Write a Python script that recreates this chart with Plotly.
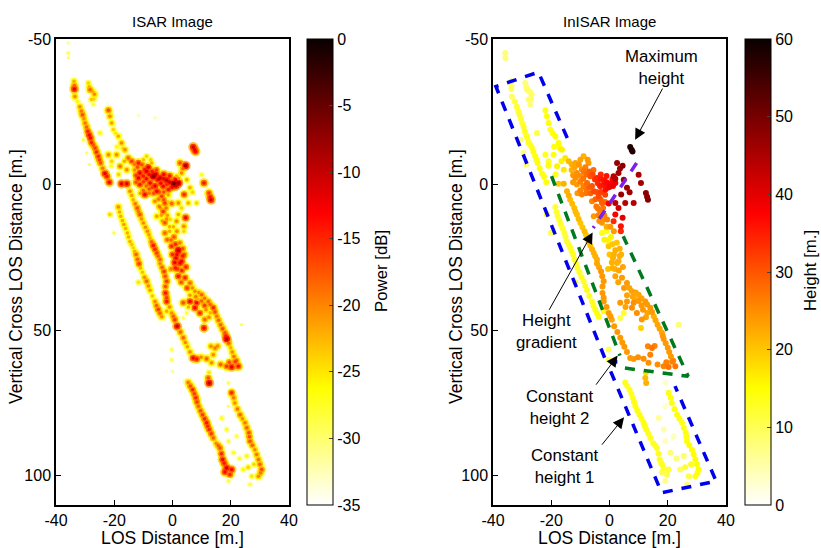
import plotly.graph_objects as go

# rows: LOS distance, vertical cross LOS distance, power [dB], height [m.]
strand_top = [(-35.8,-48.6,-31,8),(-35.8,-45.2,-29,8),(-35.7,-43.5,-30,8)]
strand_a = [(-33.8,-35.5,-22,9),(-33.7,-34,-18,9),(-33.7,-32.8,-12,10),(-33.5,-30.3,-20,9),(-32.6,-28.5,-26,11),
 (-31.8,-26.7,-20,12),(-31.3,-25.3,-19,12),(-30.9,-24,-17,12),(-30.4,-22.6,-20,12),(-30,-21.2,-19,12),
 (-29.5,-19.8,-18,13),(-29.1,-18.3,-15,13),(-28.6,-17,-13,13),(-28.2,-16,-13,13),(-27.8,-14.5,-15,13),
 (-27.2,-13.6,-17,13),(-26.6,-12.6,-16,13),(-26.1,-11.2,-15,14),(-25.5,-9.7,-15,14),(-25.1,-8.5,-16,14),
 (-24.7,-7.4,-17,14),(-24,-5.6,-19,14),(-23.2,-3.8,-12,14),(-22.5,-2.8,-14,14),(-21.7,-0.8,-13,14)]
strand_b = [(-28.9,-34.9,-24,8),(-28.6,-33.6,-22,8),(-28.3,-32.6,-18,9),(-27.4,-32,-22,9),(-26.8,-31,-20,9),
 (-27.8,-29.2,-23,8),(-27,-29.4,-24,9),(-27.2,-27.5,-28,8)]
strand_c = [(-22,-25.5,-17,13),(-21.5,-23.5,-20,14),(-20.9,-21.2,-21,14),(-20.3,-18.9,-24,13),(-19.5,-17.6,-25,14),
 (-18.6,-16.6,-22,15),(-17.5,-14.3,-20,15),(-16.3,-12,-20,16),(-15.2,-9.1,-18,17),(-22,-10.3,-20,13),
 (-19.2,-10.3,-20,14),(-20.9,-8,-24,13),(-18,-6.3,-19,16),(-15.7,-5.1,-20,17),(-24.9,-17.7,-26,11),
 (-30.6,-15.4,-29,8),(-29.5,-10.9,-30,8),(-28.6,-6.9,-30,8),(-11.7,-23.7,-32,4),(-6,-22.9,-32,4),
 (-17,-12.5,-24,15),(-19,-13,-26,14),(-21,-6.5,-27,14),(-18.5,-3.5,-24,14),(-16.5,-8,-22,16)]
mass_center = [(-14,-8,-16,21),(-11.7,-7.4,-14,23),(-8.3,-6,-12,26),(-6.6,-2.9,-7,30),(-11.2,-4,-12,25),
 (-11.7,-2.3,-12,25),(-8.9,-4.6,-11,27),(-4.3,-2.3,-10,34),(-2,-1.5,-10,36),(0.5,-0.3,-5,38),(2,-0.6,-8,39),
 (-3.2,0.6,-13,35),(-5.4,2.3,-13,31),(-9.5,3.4,-13,26),(-11.2,0,-14,24),(-7.7,-0.6,-13,28),(-1.4,1.7,-14,36),
 (-3.7,4,-16,31),(-2.6,6.3,-16,29),(-6,5.7,-20,26),(-3.2,9.2,-16,26),(-5.4,10.9,-21,24),(-2.6,13.1,-17,24),
 (-8.9,-9.7,-24,22),(-7.2,-7.4,-22,24),(-13,-5,-20,22),(-10,-1,-16,26),(-6,0.5,-12,30),(-1,-3,-14,36),
 (-5.5,-5,-16,28),(-3,-3.5,-13,34),(-0.5,1,-15,37),(-8,1.5,-17,27),(-4.5,7.5,-19,27),(-1.8,10.5,-21,26)]
mass_fill = [(-13,-7,-19,22),(-12,-6,-17,23),(-10.5,-6.8,-17,24),(-9.5,-5.2,-14,25),(-10,-3,-14,25),(-12.5,-3.2,-16,24),
 (-12.5,-0.8,-17,24),(-9,-2,-13,27),(-8,-3.5,-13,28),(-7,-4.5,-14,29),(-5.8,-3.5,-10,31),(-5,-1.8,-12,33),(-4,-0.5,-13,34),
 (-3,-2,-12,35),(-2,0,-15,36),(-1,-0.8,-11,37),(0,0.8,-13,38),(1.2,0.5,-11,39),(1,-1.8,-13,38),(-7,1,-16,29),(-9,0.5,-18,26),
 (-10,2,-18,26),(-8,3,-19,27),(-6.5,3,-17,29),(-4.5,2.5,-17,31),(-3,2.5,-17,32),(-1.5,3.5,-21,32),(-4.8,5,-19,29),
 (-3,5.2,-17,29),(-1.5,6,-23,28),(-4,8.2,-21,27),(-2.2,8,-19,27),(-3.8,10.5,-21,26),(-2,11.8,-20,25),(-3.5,12.5,-21,25),
 (-1,14.5,-22,22),(-11,3,-21,24),(-10,-8.5,-23,23),(-7.5,-8.5,-24,24)]
cluster_right = [(2.6,-7.4,-17,47),(4.5,-6.5,-9,48),(3.1,-4,-20,46),(1.4,-2.9,-22,44),(4.9,-1.7,-22,46),
 (7.1,-12.9,-11,58),(7.9,-11.4,-13,58),(10,-3.4,-27,45),(10.8,-0.6,-14,46),(12.5,2.9,-16,48),(13.2,5.2,-11,49),
 (6,1.1,-22,46),(6.9,2.6,-24,46),(4,3.4,-15,47),(8.3,6.3,-24,44),(5.4,6.3,-22,44),(2,6.3,-20,44),(3.1,8,-24,42),
 (-0.3,6.5,-18,38),(4.5,11.4,-13,40),(2,10.3,-22,38),(3.9,14.3,-20,36),(1.4,12.6,-20,34),(3.9,16,-24,34),
 (3.6,-5.5,-18,47),(2,-2,-20,44),(12.9,4.2,-14,48),(7.6,-12,-12,58)]
strand_d = [(-17.5,-0.3,-12,20),(-15.7,-0.3,-12,22),(-14.6,2.3,-20,22),(-13.5,5.2,-22,21),(-12.1,8,-17,21),
 (-11.2,10.3,-17,21),(-10,13.2,-20,20),(-8.6,16,-20,21),(-7.7,18.3,-22,20),(-6.6,20.9,-14,21),(-5.4,23.5,-16,22),
 (-4.3,25.7,-18,22),(-4.3,27.1,-20,23),(-2.9,29.8,-16,24),(-2.5,31.5,-17,24),(-2,33.2,-16,24),(-2.4,35,-17,24),
 (-2.4,37.2,-14,24),(-2,38.8,-16,24),(-2,40.1,-14,24),(-1,42,-20,24),(-0.3,44.1,-20,24),(0.8,46.4,-16,23),
 (1.6,48.6,-11,24),(2.7,50.6,-18,24),(3.7,52.6,-18,24),(5.1,55.7,-21,24),(6,57.5,-20,24),(7.1,59.5,-13,24),(8.3,59.9,-14,24),
 (-14,3.7,-21,22),(-12.8,6.6,-19,21),(-11.7,9.2,-19,21),(-10.6,11.8,-20,21),(-9.3,14.6,-20,20),(-8.1,17.2,-21,20),
 (-7.2,19.6,-18,21),(-6,22.2,-15,22),(-4.9,24.6,-18,22),(-3.6,28.4,-18,23),(0.3,45.2,-18,24),(4.4,54.2,-20,24)]
strand_e = [(-21.5,10.3,-24,12),(-20.1,16.6,-29,10),(-18.6,7.7,-20,12),(-18.2,9.4,-22,12),(-17.8,10.9,-22,12),(-16.7,13.7,-21,12),
 (-16.1,15.1,-22,12),(-15.5,16.6,-22,12),(-15.1,18,-22,12),(-14.6,19.5,-22,12),(-13.5,21.7,-24,13),(-12.5,24,-18,13),
 (-11.5,27.2,-16,13),(-11,28.6,-22,13),(-10.3,30.1,-23,13),(-9.6,31.8,-20,13),(-8.9,33.2,-18,13),(-7.7,36.3,-21,13),
 (-6.9,38.2,-23,13),(-6,40.1,-20,13),(-4.9,42.9,-16,14),(-3.7,45.4,-20,14),(-2,43.5,-22,14),(-11.7,33.5,-25,12),
 (-17.2,12.3,-22,12),(-14,20.6,-23,12),(-13,22.9,-22,13),(-12,25.6,-18,13),(-8.3,34.8,-20,13),(-5.5,41.5,-18,14),(-4.3,44.2,-18,14)]
strand_f = [(-2.6,16.6,-18,14),(-1.8,18.9,-18,16),(-0.3,21.2,-15,20),(2,22.5,-9,22),(1.2,25.2,-12,22),(3.1,26.3,-13,22),
 (4.6,28.3,-15,23),(0.8,26.7,-12,22),(2.6,26.9,-12,22),(2,31.5,-14,23),(4.3,32,-15,24),(6,33.8,-18,24),(7.7,36.6,-20,23),
 (10,37.8,-18,23),(12.3,40.1,-18,24),(14,42.3,-15,24),(15.2,45.2,-19,22),(16.5,48.1,-18,23),(18,50.9,-17,23),
 (18.6,53,-9,24),(20,56,-22,24),(21.1,59,-19,24),(22.6,62.4,-14,27),(20.3,62.6,-12,27),(18.6,62.4,-16,26),(16.5,61.8,-18,25),
 (21.5,60.8,-16,26),(19.5,61,-17,26),(1,28.6,-14,22),(3.2,29.5,-15,23),(8.8,39.5,-22,22),(13,44,-22,23),
 (12.9,41.2,-18,24),(14.6,43.7,-17,24),(15.8,46.6,-18,23),(17.2,49.5,-17,23),(18.3,52,-14,24),(19.3,54.5,-18,24),
 (20.5,57.5,-20,24),(21.9,60.5,-17,25),(9,37,-20,23),(11,39,-19,23)]
strand_f_fill = [(0,24,-15,20),(1.5,24,-13,22),(3.5,24.5,-14,22),(-0.5,29,-19,20),(1.8,29,-16,22),(3,33.5,-17,23),(5,35.5,-16,24),
 (6.8,35.5,-20,23),(6,38,-21,23),(8,38.5,-19,23),(10,40,-18,24),(11,41.5,-16,24),(11.5,43,-20,24),(12.5,45.5,-20,23),
 (-1,16,-22,14),(0.5,18,-17,16),(-0.5,19,-18,16),(1,20.5,-15,20),(2.5,20,-19,20),(3.5,22,-17,22),(4,24,-17,22),
 (0.3,14.5,-22,24),(-0.8,12,-24,26),(1.5,16,-20,24)]
cross_links = [(3.7,40.6,-17,24),(6,40.1,-13,24),(8.3,40.6,-13,25),(7.7,42.3,-13,25),(9.4,44.1,-15,25),(11.1,46.3,-18,24),
 (10.8,49.2,-13,19),(4.9,44.1,-28,12),(3.7,45.8,-29,11),(23.7,48.1,-30,8),(14.6,56.1,-19,27),(14,58.4,-20,26),
 (11.7,59.8,-18,25),(13.4,61.2,-20,25),(12.6,68.1,-10,22),(12.3,66.4,-17,21),(12.5,64.5,-25,18),(-0.3,56.6,-29,10),
 (-0.3,60.1,-29,10),(0,64.1,-31,9),(15.5,55.4,-20,26),(13.2,55.5,-20,26),(9.8,59.3,-20,25),(5.5,42,-22,23)]
strand_g = [(5.4,67.9,-19,13),(6.9,70.4,-15,13),(8,73.2,-15,13),(8.9,76.1,-18,14),(10.3,79,-16,14),(11.7,81.8,-14,14),
 (12.6,84.1,-15,14),(14,87,-18,13),(15,88.8,-20,13),(16.3,90.4,-17,13),(17.2,94.4,-13,13),(18,96,-17,13),(18.6,97.3,-11,12),
 (20.3,97.8,-13,12),(18,98.7,-13,11),(19.7,99.5,-15,11),(19.2,101.8,-28,7),
 (6.1,69.1,-17,13),(7.5,71.8,-16,13),(8.4,74.6,-16,14),(9.6,77.6,-17,14),(11,80.4,-15,14),(12.1,83,-15,14),(13.3,85.5,-16,13),
 (15.7,89.6,-18,13),(16.8,92.4,-15,13),(17.7,95.6,-14,13)]
strand_h = [(20.3,71.5,-15,14),(21,73.2,-19,14),(21.4,75,-20,14),(23.2,79,-18,14),(24,80.4,-20,14),(24.9,81.8,-19,14),(26.2,85.2,-17,14),
 (26.6,88.1,-17,14),(28.3,91,-20,15),(29.5,94.4,-19,15),(30.6,97.8,-17,15),(29.5,100.1,-20,14),(27.2,100.1,-25,11),
 (24.3,97.8,-26,10),(26.6,103,-28,8),(25.5,93.2,-26,9),(16.9,80.1,-27,6),(18.6,84.1,-27,5),(19.2,88.1,-28,4),
 (22,86.4,-28,4),(20.9,92.1,-27,8),(19.2,76.1,-30,3),(19.2,68.1,-29,3),(28,96,-24,13),(26,97,-24,12),(23,94,-27,8),
 (22.3,77,-19,14),(25.5,83.5,-18,14),(26.4,86.6,-17,14),(27.4,89.5,-18,15),(28.9,92.7,-19,15),(30,96,-18,15),(30.2,99,-19,15)]

x_ticks = [-40, -20, 0, 20, 40]
y_ticks = [-50, 0, 50, 100]
power_ticks = [-35, -30, -25, -20, -15, -10, -5, 0]
height_ticks = [0, 10, 20, 30, 40, 50, 60]

blue_box_upper_x = [-14.5, -24.4, -39, -1.2, 2.7]
blue_box_upper_y = [-16, -38.6, -33.7, 60.6, 60.9]
blue_box_lower_x = [0.4, 17.9, 36.6, 22.5]
blue_box_lower_y = [64.1, 105.8, 101.8, 69.2]
green_left_x = [-19.9, 3.6]
green_left_y = [-2.9, 58.7]
green_right_x = [5.3, 27, 4.7]
green_right_y = [63, 65.8, 17.7]
purple_x = [9.3, -5.6]
purple_y = [-7.4, 14.9]

rows = (strand_top + strand_a + strand_b + strand_c + mass_center + mass_fill + cluster_right + strand_d
        + strand_e + strand_f + strand_f_fill + cross_links + strand_g + strand_h)

hot_r = [[0, "#ffffff"], [0.25, "#ffff00"], [0.625, "#ff0000"], [1, "#0a0000"]]
FONT = "Liberation Sans"
L, R = 56, 289
L2, R2 = 493, 726
T, B = 39, 505
W, H = 821, 548

fig = go.Figure()

by_power = sorted(rows, key=lambda r: r[2])
px = [r[0] for r in by_power]
py = [r[1] for r in by_power]
pv = [r[2] for r in by_power]
fig.add_trace(go.Scatter(x=px, y=py, mode="markers", xaxis="x", yaxis="y", showlegend=False,
    marker=dict(size=10, color=[v - 11 for v in pv], cmin=-35, cmax=0, colorscale=hot_r, opacity=0.75, line_width=0)))
fig.add_trace(go.Scatter(x=px, y=py, mode="markers", xaxis="x", yaxis="y", showlegend=False,
    marker=dict(size=6.5, color=[v - 5 for v in pv], cmin=-35, cmax=0, colorscale=hot_r, line_width=0)))
fig.add_trace(go.Scatter(x=px, y=py, mode="markers", xaxis="x", yaxis="y", showlegend=False,
    marker=dict(size=3.5, color=pv, cmin=-35, cmax=0, colorscale=hot_r, line_width=0,
        colorbar=dict(x=307/W, xanchor="left", xpad=0, y=1-B/H, yanchor="bottom", ypad=0, len=(B-T)/H, lenmode="fraction",
            thickness=26, thicknessmode="pixels", outlinewidth=1, outlinecolor="black", ticks="inside", ticklen=4,
            tickvals=power_ticks, ticktext=[str(v) for v in power_ticks], tickfont=dict(family=FONT, size=16, color="black")))))

by_height = sorted([r for r in rows if r[2] > -31], key=lambda r: r[3])
fig.add_trace(go.Scatter(x=[r[0] for r in by_height], y=[r[1] for r in by_height], mode="markers", xaxis="x2", yaxis="y2", showlegend=False,
    marker=dict(size=6, color=[r[3] for r in by_height], cmin=0, cmax=60, colorscale=hot_r, line_width=0,
        colorbar=dict(x=745/W, xanchor="left", xpad=0, y=1-B/H, yanchor="bottom", ypad=0, len=(B-T)/H, lenmode="fraction",
            thickness=26, thicknessmode="pixels", outlinewidth=1, outlinecolor="black", ticks="inside", ticklen=4,
            tickvals=height_ticks, ticktext=[str(v) for v in height_ticks], tickfont=dict(family=FONT, size=16, color="black")))))

for xs, ys, col in [(blue_box_upper_x, blue_box_upper_y, "#0000ee"), (blue_box_lower_x, blue_box_lower_y, "#0000ee"),
                    (green_left_x, green_left_y, "#007a1f"), (green_right_x, green_right_y, "#007a1f"),
                    (purple_x, purple_y, "#7a22e8")]:
    fig.add_trace(go.Scatter(x=xs, y=ys, mode="lines", xaxis="x2", yaxis="y2", showlegend=False,
        line=dict(color=col, width=3.5, dash="10px,9px")))

axis_common = dict(range=[-40, 40], tickvals=x_ticks, ticktext=[str(v) for v in x_ticks], ticks="inside", ticklen=5,
    showgrid=False, zeroline=False, showline=True, mirror=True, linecolor="black", linewidth=1.5, tickcolor="black",
    tickfont=dict(family=FONT, size=16, color="black"),
    title=dict(text="LOS Distance [m.]", font=dict(family=FONT, size=17.6, color="black"), standoff=2))
yaxis_common = dict(range=[110, -50], tickvals=y_ticks, ticktext=[str(v) for v in y_ticks], ticks="inside", ticklen=5,
    showgrid=False, zeroline=False, showline=True, mirror=True, linecolor="black", linewidth=1.5, tickcolor="black",
    tickfont=dict(family=FONT, size=16, color="black"))

fig.update_layout(width=W, height=H, margin=dict(l=0, r=0, t=0, b=0, autoexpand=False), paper_bgcolor="white", plot_bgcolor="white",
    xaxis=dict(domain=[L/W, R/W], anchor="y", **axis_common),
    yaxis=dict(domain=[1-B/H, 1-T/H], anchor="x", **yaxis_common),
    xaxis2=dict(domain=[L2/W, R2/W], anchor="y2", **axis_common),
    yaxis2=dict(domain=[1-B/H, 1-T/H], anchor="x2", **yaxis_common))

def note(text, x, y):
    fig.add_annotation(text=text, x=x, y=y, xref="x2", yref="y2", showarrow=False,
        font=dict(family=FONT, size=16.8, color="black"), align="center")

def arrow(x, y, ax, ay):
    fig.add_annotation(text="", x=x, y=y, ax=ax, ay=ay, xref="x2", yref="y2", axref="x2", ayref="y2", showarrow=True,
        arrowhead=2, arrowsize=2.2, arrowwidth=1, arrowcolor="black")

def page_text(text, x, y, size, angle=0):
    fig.add_annotation(text=text, x=x/W, y=1-y/H, xref="paper", yref="paper", xanchor="center", yanchor="middle",
        showarrow=False, textangle=angle, font=dict(family=FONT, size=size, color="black"))

page_text("ISAR Image", 172, 21, 15)
page_text("InISAR Image", 609, 21, 15)
page_text("Vertical Cross LOS Distance [m.]", 16, 277, 17.5, -90)
page_text("Vertical Cross LOS Distance [m.]", 456, 277, 17.5, -90)
page_text("Power [dB]", 381, 271, 16.8, -90)
page_text("Height [m.]", 810, 271, 16.8, -90)

note("Maximum<br>height", 17.7, -40.2)
note("Height<br>gradient", -21.6, 50.4)
note("Constant<br>height 2", -17, 76.4)
note("Constant<br>height 1", -15.3, 96.9)
arrow(8.8, -15.4, 18.5, -33.5)
arrow(-5.8, 16.4, -21, 43.5)
arrow(2.8, 58.7, -5, 69.2)
arrow(5, 79.9, -3, 89.8)

fig.write_html("out.html", config={"displayModeBar": False}, post_script="document.body.style.margin='0';")
